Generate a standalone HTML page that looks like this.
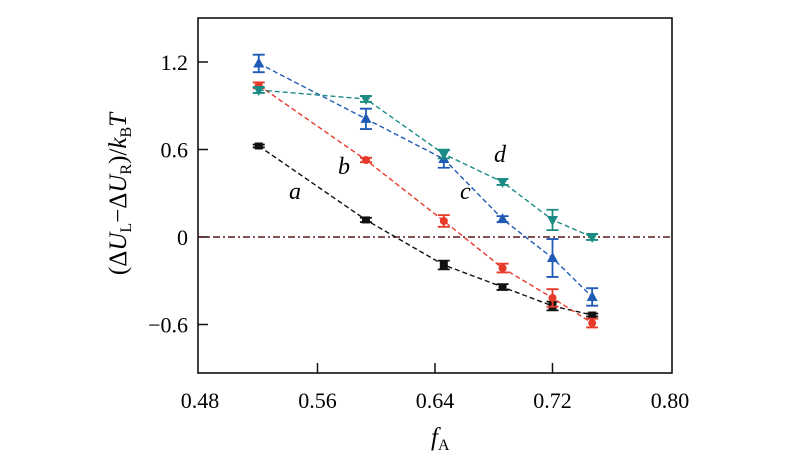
<!DOCTYPE html>
<html><head><meta charset="utf-8"><style>
html,body{margin:0;padding:0;background:#fff;}
svg{display:block;font-family:"Liberation Serif",serif;}
</style></head><body>
<svg id="chart" width="800" height="464" viewBox="0 0 800 464" xmlns="http://www.w3.org/2000/svg">
<rect x="198" y="18" width="474" height="355" fill="none" stroke="#111" stroke-width="1.6"/>
<g id="ticks"></g>
<line id="zero" stroke="#5a1a1a" stroke-width="1.4" stroke-dasharray="7,3,2,3"/>
<g id="series"></g>
<text transform="translate(126,194) rotate(-90)" text-anchor="middle" font-size="25">(Δ<tspan font-style="italic">U</tspan><tspan font-size="16" dy="5">L</tspan><tspan dy="-5">−Δ</tspan><tspan font-style="italic">U</tspan><tspan font-size="16" dy="5">R</tspan><tspan dy="-5">)/</tspan><tspan font-style="italic">k</tspan><tspan font-size="16" dy="5">B</tspan><tspan dy="-5" font-style="italic">T</tspan></text>
<text x="431" y="445" font-size="25" font-style="italic">f<tspan font-style="normal" font-size="16" dy="5">A</tspan></text>
<text x="289" y="199" font-size="24" font-style="italic">a</text>
<text x="338" y="174" font-size="24" font-style="italic">b</text>
<text x="460" y="199" font-size="24" font-style="italic">c</text>
<text x="494" y="162" font-size="24" font-style="italic">d</text>
</svg>
<script>
const xVals=[0.52,0.593,0.646,0.686,0.72,0.747];
const aVals=[0.624,0.117,-0.192,-0.343,-0.473,-0.535];
const aErr=[0.01,0.015,0.03,0.02,0.03,0.01];
const bVals=[1.04,0.528,0.11,-0.213,-0.418,-0.59];
const bErr=[0.02,0.015,0.04,0.03,0.06,0.03];
const cVals=[1.19,0.81,0.535,0.123,-0.144,-0.411];
const cErr=[0.06,0.07,0.06,0.02,0.13,0.06];
const dVals=[1.008,0.946,0.569,0.377,0.117,0.0];
const dErr=[0.02,0.02,0.03,0.02,0.07,0.02];
const xTicks=[0.48,0.56,0.64,0.72,0.80];
const xTickLabels=["0.48","0.56","0.64","0.72","0.80"];
const yTicks=[1.2,0.6,0,-0.6];
const yTickLabels=["1.2","0.6","0","−0.6"];
const NS="http://www.w3.org/2000/svg";
function X(v){return 200+(v-0.48)/0.08*117.5;}
function Y(v){return 237-v/0.6*87.5;}
function mk(t,a,p){const e=document.createElementNS(NS,t);for(const k in a)e.setAttribute(k,a[k]);(p||document.getElementById('series')).appendChild(e);return e;}
const tg=document.getElementById('ticks');
xTicks.forEach((v,i)=>{
 if(i>0&&i<xTicks.length-1){const l=mk('line',{x1:X(v),x2:X(v),y1:373,y2:363,stroke:'#111','stroke-width':1.5},tg);}
 const t=mk('text',{x:X(v),y:408,'text-anchor':'middle','font-size':22},tg);t.textContent=xTickLabels[i];
 
});
yTicks.forEach((v,i)=>{
 const l=mk('line',{x1:198,x2:208,y1:Y(v),y2:Y(v),stroke:'#111','stroke-width':1.5},tg);
 
 const t=mk('text',{x:188,y:Y(v)+8,'text-anchor':'end','font-size':22},tg);t.textContent=yTickLabels[i];
 
});
const z=document.getElementById('zero');z.setAttribute('x1',198);z.setAttribute('x2',672);z.setAttribute('y1',Y(0));z.setAttribute('y2',Y(0));
const series=[["a",aVals,aErr,"#111","sq"],["b",bVals,bErr,"#e83a2a","ci"],["c",cVals,cErr,"#1f5bb5","up"],["d",dVals,dErr,"#1a8c84","dn"]];
series.forEach(([n,vals,err,col,shape])=>{
 const g=mk('g',{});
 const pts=vals.map((v,i)=>X(xVals[i])+','+Y(v)).join(' ');
 const pl=mk('polyline',{points:pts,fill:'none',stroke:col,'stroke-width':1.4,'stroke-dasharray':'5,3'},g);
 
 vals.forEach((v,i)=>{
  const x=X(xVals[i]),y=Y(v),e1=Y(v+err[i]),e2=Y(v-err[i]);
  const eb=mk('path',{d:`M${x},${e1}V${e2}M${x-6},${e1}H${x+6}M${x-6},${e2}H${x+6}`,stroke:col,'stroke-width':1.8,fill:'none'},g);
  
  let m;
  if(shape==='sq')m=mk('rect',{x:x-4,y:y-3.5,width:8,height:7,fill:col},g);
  else if(shape==='ci')m=mk('circle',{cx:x,cy:y,r:4,fill:col},g);
  else if(shape==='up')m=mk('path',{d:`M${x},${y-6}L${x+5.5},${y+4}L${x-5.5},${y+4}Z`,fill:col},g);
  else m=mk('path',{d:`M${x},${y+6}L${x+5.5},${y-4}L${x-5.5},${y-4}Z`,fill:col},g);
  
 });
});
</script>
</body></html>
